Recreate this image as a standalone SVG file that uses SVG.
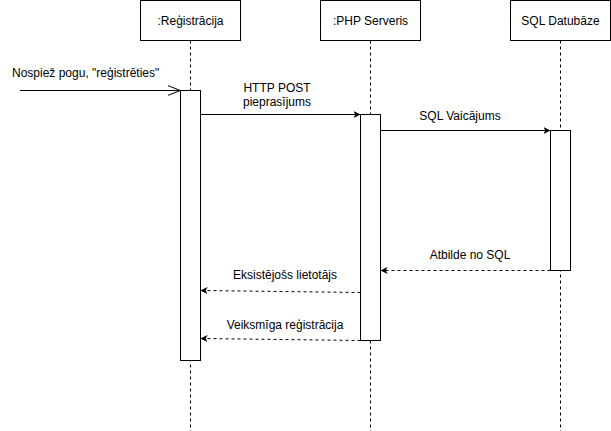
<svg xmlns="http://www.w3.org/2000/svg" width="611" height="431" viewBox="0 0 611 431">
<style>
.box{fill:#fff;stroke:#000;stroke-width:1}
.life{stroke:#000;stroke-width:1;stroke-dasharray:3 3;fill:none}
.msg{stroke:#000;stroke-width:1;fill:none}
.ret{stroke:#000;stroke-width:1;fill:none;stroke-dasharray:3 3}
text{font-family:"Liberation Sans",Arial,sans-serif;font-size:12px;fill:#000}
.c{text-anchor:middle}
</style>
<defs>
<marker id="block" viewBox="0 0 10 10" refX="10" refY="5" markerWidth="7" markerHeight="7" markerUnits="userSpaceOnUse" orient="auto">
<path d="M0,0 L10,5 L0,10 L2.5,5 Z" fill="#000"/>
</marker>
<marker id="open" viewBox="0 0 14 12" refX="13" refY="6" markerWidth="14" markerHeight="12" markerUnits="userSpaceOnUse" orient="auto">
<path d="M0,1 L13,6 L0,11" fill="none" stroke="#000" stroke-width="1"/>
</marker>
</defs>
<g id="lifelines">
<line class="life" x1="190.5" y1="40.5" x2="190.5" y2="431"/>
<line class="life" x1="370.5" y1="40.5" x2="370.5" y2="431"/>
<line class="life" x1="560.5" y1="40.5" x2="560.5" y2="431"/>
</g>
<g id="node-registracija">
<rect class="box" x="140.5" y="0.5" width="100" height="40"/>
<text class="c" x="190.5" y="25">:Reģistrācija</text>
</g>
<g id="node-php">
<rect class="box" x="320.5" y="0.5" width="100" height="40"/>
<text class="c" x="370.5" y="25">:PHP Serveris</text>
</g>
<g id="node-sql">
<rect class="box" x="510.5" y="0.5" width="100" height="40"/>
<text class="c" x="560.5" y="25">SQL Datubāze</text>
</g>
<g id="activations">
<rect class="box" x="180.5" y="90.5" width="20" height="270"/>
<rect class="box" x="360.5" y="114.5" width="20" height="226"/>
<rect class="box" x="550.5" y="130.5" width="20" height="140"/>
</g>
<g id="connectors">
<line class="msg" x1="20" y1="90.5" x2="180.5" y2="90.5" marker-end="url(#open)"/>
<line class="msg" x1="200.5" y1="114.5" x2="360.5" y2="114.5" marker-end="url(#block)"/>
<line class="msg" x1="380.5" y1="130.5" x2="550.5" y2="130.5" marker-end="url(#block)"/>
<line class="ret" x1="550.5" y1="270.5" x2="380.5" y2="270.5" marker-end="url(#block)"/>
<line class="ret" x1="360.5" y1="292.5" x2="200.5" y2="290.5" marker-end="url(#block)"/>
<line class="ret" x1="360.5" y1="340.5" x2="200.5" y2="338.5" marker-end="url(#block)"/>
</g>
<g id="labels">
<text x="12" y="77">Nospiež pogu, "reģistrēties"</text>
<text class="c" x="277" y="92">HTTP POST</text>
<text class="c" x="277" y="106">pieprasījums</text>
<text class="c" x="460" y="120">SQL Vaicājums</text>
<text class="c" x="470" y="259">Atbilde no SQL</text>
<text class="c" x="285" y="279">Eksistējošs lietotājs</text>
<text class="c" x="285" y="329">Veiksmīga reģistrācija</text>
</g>
</svg>
